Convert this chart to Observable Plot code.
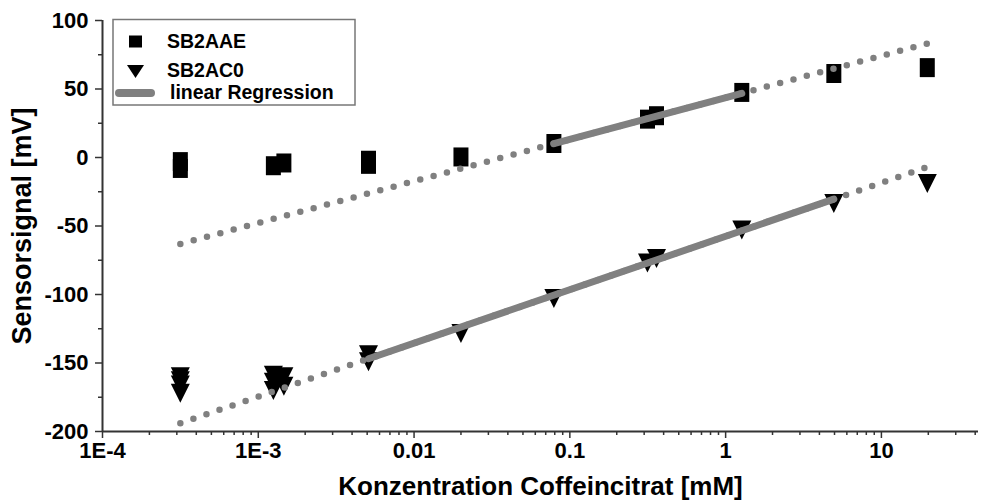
<!DOCTYPE html>
<html><head><meta charset="utf-8">
<script src="https://cdn.jsdelivr.net/npm/d3@7"></script>
<script src="https://cdn.jsdelivr.net/npm/@observablehq/plot@0.6"></script>
<style>body{margin:0;background:#fff} #chart{width:982px;height:503px}</style>
</head><body><div id="chart"></div>
<script>
// ---- data ----
const concAAE   = [3.16e-4, 3.16e-4, 1.25e-3, 1.46e-3, 5.1e-3, 5.1e-3, 0.02, 0.079, 0.315, 0.36, 1.27, 4.95, 19.7];
const signalAAE = [-3, -8, -6, -4, -2, -5, 0.4, 10.2, 28, 30.5, 47.5, 61.3, 65.6];

const concAC0   = [3.16e-4, 3.16e-4, 3.16e-4, 3.16e-4, 1.25e-3, 1.25e-3, 1.25e-3, 1.46e-3, 1.46e-3, 5.1e-3, 5.1e-3, 0.02, 0.079, 0.315, 0.36, 1.27, 4.95, 19.7];
const signalAC0 = [-160, -163, -166, -172, -159, -164, -170, -160, -167, -144, -149, -128.5, -103, -77, -73.7, -53, -33.6, -19];

const fitNames     = ["SB2AAE", "SB2AC0"];
const fitIntercept = [43.7, -57.5];
const fitSlope     = [30.5, 39.0];
const fitDotted    = [[3.16e-4, 20], [3.16e-4, 20]];
const fitSolid     = [[0.079, 1.27], [5.1e-3, 4.95]];

const xDecades      = [1e-4, 1e-3, 0.01, 0.1, 1, 10];
const xDecadeLabels = ["1E-4", "1E-3", "0.01", "0.1", "1", "10"];
const yTicks = [-200, -150, -100, -50, 0, 50, 100];
const yMinor = [-175, -125, -75, -25, 25, 75];
const xMax = 42;

// ---- derived tables ----
const ptsAAE = concAAE.map((c, i) => ({c, v: signalAAE[i]}));
const ptsAC0 = concAC0.map((c, i) => ({c, v: signalAC0[i]}));
const fitLine = (k, range) => range.map(c => ({c, v: fitIntercept[k] + fitSlope[k] * Math.log10(c), k}));
const dotted = [0, 1].flatMap(k => fitLine(k, fitDotted[k]));
const solid  = [0, 1].flatMap(k => fitLine(k, fitSolid[k]));
const xMinor = xDecades.flatMap(d => [2,3,4,5,6,7,8,9].map(m => d * m)).filter(v => v <= xMax);

const rectSym = {draw(ctx) { const w = 7.5, h = 9.5; ctx.moveTo(-w,-h); ctx.lineTo(w,-h); ctx.lineTo(w,h); ctx.lineTo(-w,h); ctx.closePath(); }};
const triSym  = {draw(ctx) { const w = 9.5, h = 9.5; ctx.moveTo(-w,-h); ctx.lineTo(w,-h); ctx.lineTo(0,h); ctx.closePath(); }};

const font = "Liberation Sans, Arial, Helvetica, sans-serif";
const gray = "#808080";
const axisCol = "#333";

const chart = Plot.plot({
  width: 982, height: 503,
  marginLeft: 102, marginRight: 4, marginTop: 20, marginBottom: 72,
  style: {fontFamily: font, fontWeight: "bold", color: "black", background: "white"},
  x: {type: "log", domain: [1e-4, xMax], label: null},
  y: {domain: [-200, 100], label: null},
  marks: [
    Plot.axisX({ticks: xMinor, tickSize: 4, text: null, label: null, stroke: axisCol, strokeWidth: 1.5}),
    Plot.axisX({ticks: xDecades, tickSize: 7, tickPadding: 4, tickFormat: d => xDecadeLabels[xDecades.indexOf(d)], fontSize: 22, fontWeight: "bold", label: null, stroke: axisCol, strokeWidth: 1.5}),
    Plot.axisY({ticks: yMinor, tickSize: 4, text: null, label: null, stroke: axisCol, strokeWidth: 1.5}),
    Plot.axisY({ticks: yTicks, tickSize: 7, tickPadding: 7, tickFormat: d => String(d), fontSize: 22, fontWeight: "bold", label: null, stroke: axisCol, strokeWidth: 1.5}),
    Plot.ruleX([1e-4], {stroke: axisCol, strokeWidth: 2}),
    Plot.ruleY([-200], {stroke: axisCol, strokeWidth: 2}),
    Plot.dot(ptsAAE, {x: "c", y: "v", symbol: rectSym, fill: "black", stroke: null}),
    Plot.dot(ptsAC0, {x: "c", y: "v", symbol: triSym, fill: "black", stroke: null}),
    Plot.line(dotted, {x: "c", y: "v", z: "k", stroke: gray, strokeWidth: 6.5, strokeDasharray: "0 13.8", strokeLinecap: "round"}),
    Plot.line(solid, {x: "c", y: "v", z: "k", stroke: gray, strokeWidth: 7, strokeLinecap: "round"}),
    Plot.text(["Sensorsignal [mV]"], {frameAnchor: "left", textAnchor: "middle", lineAnchor: "middle", rotate: -90, dx: -80, fontSize: 27, fontWeight: "bold", fill: "black"}),
    Plot.text(["Konzentration Coffeincitrat [mM]"], {frameAnchor: "bottom", textAnchor: "middle", lineAnchor: "middle", dy: 55, fontSize: 26, fontWeight: "bold", fill: "black"})
  ]
});
document.getElementById("chart").appendChild(chart);

// ---- legend ----
const svg = d3.select(chart);
const lg = svg.append("g").attr("font-family", font).attr("font-weight", "bold").attr("font-size", 19.5).attr("text-anchor", "start");
lg.append("rect").attr("x", 113).attr("y", 19.5).attr("width", 242).attr("height", 85.5)
  .attr("fill", "white").attr("stroke", "#777").attr("stroke-width", 1.5);
lg.append("rect").attr("x", 129).attr("y", 35.5).attr("width", 13).attr("height", 12).attr("fill", "black");
lg.append("text").attr("x", 167).attr("y", 47.5).text(fitNames[0]);
lg.append("path").attr("d", "M127,65 L144,65 L135.5,78 Z").attr("fill", "black");
lg.append("text").attr("x", 167).attr("y", 77).text(fitNames[1]);
lg.append("line").attr("x1", 119).attr("x2", 151).attr("y1", 93).attr("y2", 93)
  .attr("stroke", gray).attr("stroke-width", 8).attr("stroke-linecap", "round");
lg.append("text").attr("x", 170).attr("y", 99).text("linear Regression");
</script>
</body></html>
